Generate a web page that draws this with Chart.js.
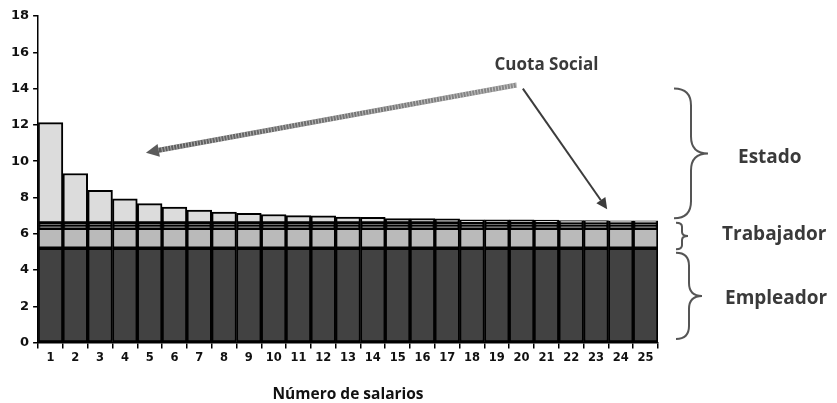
<!DOCTYPE html>
<html lang="es">
<head>
<meta charset="utf-8">
<title>Número de salarios</title>
<script src="https://cdn.jsdelivr.net/npm/chart.js@4/dist/chart.umd.min.js"></script>
<style>
  html, body { margin: 0; padding: 0; background: #fff; }
  #wrap { width: 837px; height: 403px; position: relative; }
</style>
</head>
<body>
<div id="wrap"><canvas id="c"></canvas></div>
<script>
// Categories: number of salaries
const categories = ['1','2','3','4','5','6','7','8','9','10','11','12','13','14','15','16','17','18','19','20','21','22','23','24','25'];

// Employer contribution (constant)
const empleador = [5.2,5.2,5.2,5.2,5.2,5.2,5.2,5.2,5.2,5.2,5.2,5.2,5.2,5.2,5.2,5.2,5.2,5.2,5.2,5.2,5.2,5.2,5.2,5.2,5.2];
// Worker contribution (constant)
const trabajador = [1.1,1.1,1.1,1.1,1.1,1.1,1.1,1.1,1.1,1.1,1.1,1.1,1.1,1.1,1.1,1.1,1.1,1.1,1.1,1.1,1.1,1.1,1.1,1.1,1.1];
// Two thin additional worker bands
const trabajadorBandaA = [0.13,0.13,0.13,0.13,0.13,0.13,0.13,0.13,0.13,0.13,0.13,0.13,0.13,0.13,0.13,0.13,0.13,0.13,0.13,0.13,0.13,0.13,0.13,0.13,0.13];
const trabajadorBandaB = [0.16,0.16,0.16,0.16,0.16,0.16,0.16,0.16,0.16,0.16,0.16,0.16,0.16,0.16,0.16,0.16,0.16,0.16,0.16,0.16,0.16,0.16,0.16,0.16,0.16];
// State social quota, shrinking as salaries grow
const cuotaSocial = [5.53,2.73,1.80,1.33,1.07,0.88,0.72,0.61,0.53,0.47,0.41,0.40,0.33,0.32,0.25,0.24,0.23,0.18,0.17,0.17,0.16,0.13,0.13,0.12,0.12];

// y-axis tick values
const yTicks = [0,2,4,6,8,10,12,14,16,18];

const labelFont = '"Open Sans", "Liberation Sans", sans-serif';
const tickFont = '"DejaVu Sans", Verdana, sans-serif';

function barSet(label, data, color) {
  return {
    label, data,
    backgroundColor: color,
    borderColor: '#000',
    borderWidth: 2,
    borderSkipped: false,
    categoryPercentage: 1.0,
    barPercentage: 1.0
  };
}

// Draws a right-pointing curly brace between two y pixels
function drawBrace(ctx, x, y1, y2, w) {
  const mid = (y1 + y2) / 2;
  const h = y2 - y1;
  const r = Math.min(w * 0.5, h * 0.15);
  ctx.beginPath();
  ctx.moveTo(x, y1);
  ctx.quadraticCurveTo(x + w * 0.5, y1, x + w * 0.5, y1 + r);
  ctx.lineTo(x + w * 0.5, mid - r);
  ctx.quadraticCurveTo(x + w * 0.5, mid, x + w, mid);
  ctx.quadraticCurveTo(x + w * 0.5, mid, x + w * 0.5, mid + r);
  ctx.lineTo(x + w * 0.5, y2 - r);
  ctx.quadraticCurveTo(x + w * 0.5, y2, x, y2);
  ctx.stroke();
}

function drawArrow(ctx, x1, y1, x2, y2, width, color, head) {
  const ang = Math.atan2(y2 - y1, x2 - x1);
  const bx = x2 - Math.cos(ang) * head;
  const by = y2 - Math.sin(ang) * head;
  ctx.strokeStyle = color;
  ctx.lineWidth = width;
  ctx.beginPath();
  ctx.moveTo(x1, y1);
  ctx.lineTo(bx, by);
  ctx.stroke();
  ctx.fillStyle = color;
  ctx.beginPath();
  ctx.moveTo(x2, y2);
  ctx.lineTo(bx + Math.cos(ang + Math.PI / 2) * head * 0.5, by + Math.sin(ang + Math.PI / 2) * head * 0.5);
  ctx.lineTo(bx + Math.cos(ang - Math.PI / 2) * head * 0.5, by + Math.sin(ang - Math.PI / 2) * head * 0.5);
  ctx.closePath();
  ctx.fill();
}

const annotations = {
  id: 'annotations',
  afterDraw(chart) {
    const { ctx, scales: { x, y } } = chart;
    const px = v => x.getPixelForValue(0) + (x.getPixelForValue(1) - x.getPixelForValue(0)) * v;
    ctx.save();

    // Arrows from the "Cuota Social" label
    const sx = px(18.8), sy = y.getPixelForValue(14.2);
    const ex = px(3.85), ey = y.getPixelForValue(10.47);
    const grad = ctx.createLinearGradient(sx, sy, ex, ey);
    grad.addColorStop(0, '#8a8a8a');
    grad.addColorStop(1, '#5a5a5a');
    drawArrow(ctx, sx, sy, ex, ey, 5, grad, 13);
    // striped texture on the thick arrow
    ctx.save();
    ctx.strokeStyle = 'rgba(255,255,255,0.5)';
    ctx.lineWidth = 5;
    ctx.setLineDash([1, 2]);
    ctx.beginPath();
    ctx.moveTo(sx, sy);
    ctx.lineTo(ex + (sx - ex) * 0.04, ey + (sy - ey) * 0.04);
    ctx.stroke();
    ctx.restore();

    drawArrow(ctx, px(19.05), y.getPixelForValue(14.0), px(22.45), y.getPixelForValue(7.35), 2, '#3c3c3c', 11);

    ctx.fillStyle = '#3a3a3a';
    ctx.textAlign = 'center';
    ctx.textBaseline = 'middle';
    ctx.font = 'bold 17px ' + labelFont;
    ctx.fillText('Cuota Social', px(20.0), y.getPixelForValue(15.3));

    // Braces grouping each contributor
    const bx = chart.chartArea.right + 16;
    ctx.strokeStyle = '#555';
    ctx.lineWidth = 2;
    drawBrace(ctx, bx, y.getPixelForValue(14.0), y.getPixelForValue(6.85), 34);
    drawBrace(ctx, bx + 2, y.getPixelForValue(6.6), y.getPixelForValue(5.15), 12);
    drawBrace(ctx, bx + 2, y.getPixelForValue(4.95), y.getPixelForValue(0.2), 26);

    ctx.textAlign = 'left';
    ctx.font = 'bold 19px ' + labelFont;
    ctx.fillText('Estado', bx + 64, y.getPixelForValue(10.2));
    ctx.fillText('Trabajador', bx + 48, y.getPixelForValue(5.95));
    ctx.fillText('Empleador', bx + 51, y.getPixelForValue(2.4));
    ctx.restore();
  }
};

new Chart(document.getElementById('c'), {
  type: 'bar',
  data: {
    labels: categories,
    datasets: [
      barSet('Empleador', empleador, '#424242'),
      barSet('Trabajador', trabajador, '#bababa'),
      barSet('Trabajador (a)', trabajadorBandaA, '#5e5e5e'),
      barSet('Trabajador (b)', trabajadorBandaB, '#5e5e5e'),
      barSet('Cuota Social', cuotaSocial, '#dcdcdc')
    ]
  },
  options: {
    responsive: true,
    maintainAspectRatio: false,
    animation: false,
    layout: { padding: { left: 7, top: 16, right: 179, bottom: -1 } },
    plugins: { legend: { display: false }, tooltip: { enabled: false } },
    scales: {
      x: {
        stacked: true,
        grid: { display: true, drawOnChartArea: false, drawTicks: true, tickLength: 6, color: '#000', lineWidth: 1.5, offset: true },
        border: { display: true, color: '#000', width: 1.5 },
        ticks: { color: '#111', font: { family: tickFont, weight: 'bold', size: 11.5 }, padding: 3, maxRotation: 0, autoSkip: false },
        title: { display: true, text: 'Número de salarios', color: '#111', font: { family: labelFont, weight: 'bold', size: 15.5 }, padding: { top: 17, bottom: 0 } }
      },
      y: {
        stacked: true,
        min: 0,
        max: 18,
        afterBuildTicks(axis) { axis.ticks = yTicks.map(v => ({ value: v })); },
        grid: { display: true, drawOnChartArea: false, drawTicks: true, tickLength: 5, color: '#000', lineWidth: 1.5 },
        border: { display: true, color: '#000', width: 1.5 },
        ticks: { color: '#111', font: { family: tickFont, weight: 'bold', size: 13 }, padding: 4 }
      }
    }
  },
  plugins: [annotations]
});
</script>
</body>
</html>
